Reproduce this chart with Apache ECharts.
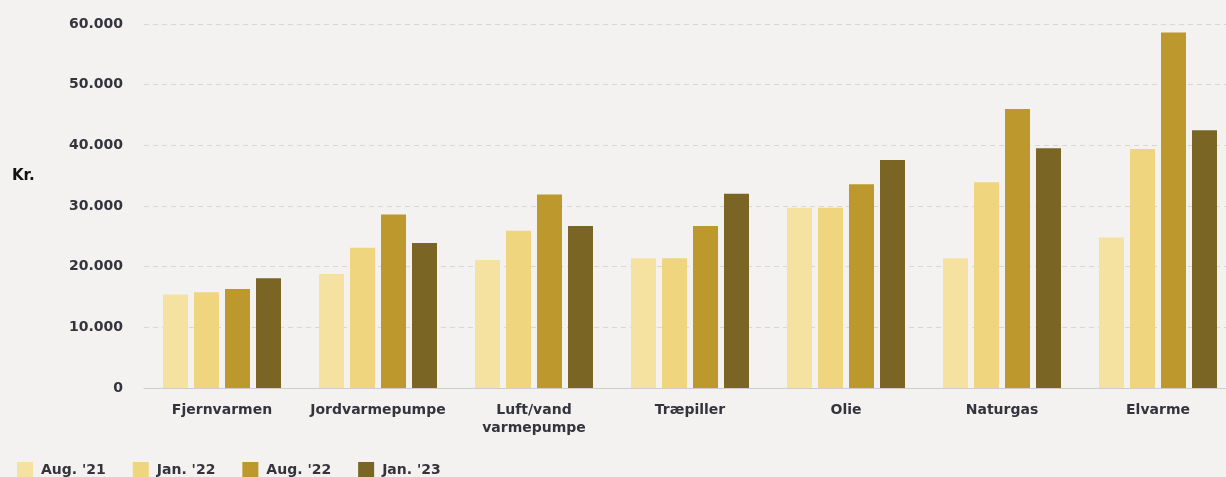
<!DOCTYPE html>
<html>
<head>
<meta charset="utf-8">
<script src="https://cdn.jsdelivr.net/npm/echarts@6/dist/echarts.min.js"></script>
<style>
    html, body { margin: 0; padding: 0; background: #f3f2f0; overflow: hidden; }
    /* plotområdet er beskåret i højre side, derfor lidt bredere end vinduet */
    #chart { width: 1236px; height: 477px; }
</style>
</head>
<body>
<div id="chart"></div>
<script>
// opvarmningsudgifter pr. år
const categories = ["Fjernvarmen", "Jordvarmepumpe", "Luft/vand\nvarmepumpe", "Træpiller", "Olie", "Naturgas", "Elvarme"]
const seriesNames = ["Aug. '21", "Jan. '22", "Aug. '22", "Jan. '23"]
const aug21 = [15400, 18800, 21100, 21400, 29700, 21400, 24800]
const jan22 = [15800, 23100, 25900, 21400, 29700, 33900, 39400]
const aug22 = [16300, 28600, 31900, 26700, 33600, 46000, 58600]
const jan23 = [18100, 23900, 26700, 32000, 37600, 39500, 42500]
const colors = ["#f5e1a0", "#efd67e", "#bc982d", "#7a6524"]

const fontFam = "'DejaVu Sans', sans-serif"
const txtColor = "#34343c"

let myChart = echarts.init(document.getElementById("chart"))

let option = {
    backgroundColor: "#f3f2f0",
    color: colors,
    animation: false,
    title: {
        text: "Kr.",
        left: 7,
        top: 164,
        textStyle: { fontFamily: fontFam, fontSize: 15, fontWeight: "bold", color: "#111111" }
    },
    legend: {
        left: 12,
        top: 457,
        itemWidth: 16,
        itemHeight: 16,
        itemGap: 27,
        icon: "rect",
        data: seriesNames,
        textStyle: { fontFamily: fontFam, fontSize: 14, fontWeight: "bold", color: txtColor, padding: [0, 0, 0, 3] }
    },
    grid: {
        left: 144,
        top: 24,
        right: 0,
        height: 364,
        containLabel: false
    },
    xAxis: {
        type: "category",
        data: categories,
        axisTick: { show: false },
        axisLine: { lineStyle: { color: "#cfcdca", width: 1 } },
        axisLabel: {
            fontFamily: fontFam,
            fontSize: 14,
            fontWeight: "bold",
            color: txtColor,
            margin: 13,
            lineHeight: 18,
            interval: 0
        }
    },
    yAxis: {
        type: "value",
        min: 0,
        max: 60000,
        interval: 10000,
        axisLine: { show: false },
        axisTick: { show: false },
        axisLabel: {
            fontFamily: fontFam,
            fontSize: 14,
            fontWeight: "bold",
            color: txtColor,
            margin: 21,
            formatter: function (v) {
                return v === 0 ? "0" : String(v).replace(/\B(?=(\d{3})+(?!\d))/g, ".")
            }
        },
        splitLine: {
            lineStyle: { color: "#d9d7d4", type: [5, 4], width: 1 }
        }
    },
    series: seriesNames.map(function (name, i) {
        return {
            name: name,
            type: "bar",
            data: [aug21, jan22, aug22, jan23][i],
            barWidth: 25,
            barGap: "24%",
            itemStyle: { color: colors[i] }
        }
    })
}
myChart.setOption(option)
window.addEventListener("resize", function () {
    myChart.resize()
})
</script>
</body>
</html>
